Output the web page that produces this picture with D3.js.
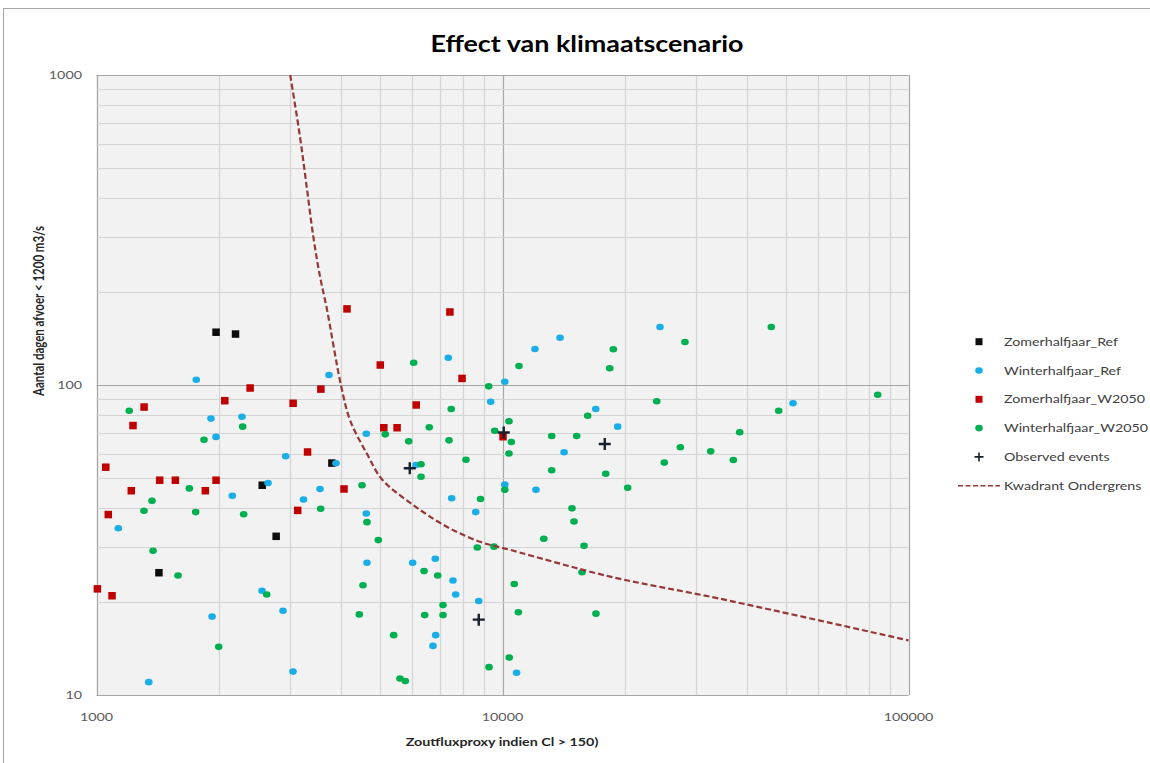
<!DOCTYPE html>
<html>
<head>
<meta charset="utf-8">
<script src="https://cdn.jsdelivr.net/npm/d3@7"></script>
<style>
  body { margin: 0; background: #fff; }
  svg { display: block; font-family: Lato, 'Noto Sans', sans-serif; }
</style>
</head>
<body>
<svg width="1150" height="763"></svg>
<script>
// values: [zoutfluxproxy, aantal dagen]
const zomerRef = [
  [1970, 148], [2200, 146], [2560, 47.5], [2770, 32.5], [1425, 24.8], [3800, 56]
];
const winterRef = [
  [1761, 104], [1914, 77.9], [2282, 79], [1970, 68], [2924, 58.9], [2646, 48.3],
  [2160, 43.9], [3235, 42.7], [1132, 34.5], [2557, 21.7], [2880, 18.7], [1926, 17.9],
  [3048, 11.9], [1345, 11], [3738, 107.7], [7353, 122.5], [10130, 102.5], [9353, 88.3],
  [4618, 69.6], [3890, 55.9], [6123, 55.2], [3552, 46.2], [10130, 47.7], [7496, 43.1],
  [4618, 38.5], [8590, 38.9], [4637, 26.7], [6009, 26.7], [6831, 27.5], [7551, 23.4],
  [7668, 21.1], [8738, 20.1], [6846, 15.6], [6742, 14.4], [10830, 11.8], [24430, 153.9],
  [13860, 142.1], [12020, 130.6], [16970, 83.7], [19220, 73.4], [14180, 60.7],
  [12090, 45.9], [51950, 87.3]
];
const zomerW2050 = [
  [2390, 97.8], [2070, 89], [3050, 87.3], [1310, 84.9], [1230, 74], [3310, 60.8],
  [1054, 54.3], [1431, 49.3], [1564, 49.3], [1970, 49.3], [1218, 45.6], [1854, 45.6],
  [1069, 38.2], [3130, 39.4], [1005, 22], [1092, 20.9], [4140, 176], [7420, 172],
  [5000, 116], [7950, 105], [3570, 97], [6130, 86.2], [5100, 72.8], [5500, 72.8],
  [10030, 68.1], [4070, 46.2]
];
const winterW2050 = [
  [1204, 82.6], [2291, 73.4], [1840, 66.6], [1693, 46.4], [1370, 42.3], [1309, 39.3],
  [1755, 38.9], [2304, 38.3], [1378, 29.2], [1588, 24.3], [2626, 21.1], [2000, 14.3],
  [6043, 118], [10980, 115.2], [9248, 99], [7477, 83.7], [10375, 76.4], [6602, 73],
  [9568, 71.2], [10510, 65.5], [5143, 69.3], [5875, 65.8], [7383, 66.3], [10375, 60.1],
  [8130, 57.4], [6300, 55.5], [6300, 50.6], [4508, 47.5], [10130, 45.9], [8828, 42.9],
  [3566, 39.9], [4637, 36.1], [4944, 31.6], [8668, 29.9], [9528, 30.1], [6408, 25.1],
  [6925, 24.3], [4533, 22.6], [10690, 22.8], [7136, 19.5], [6433, 18.1], [7136, 18.1],
  [4439, 18.2], [10940, 18.5], [5395, 15.6], [10390, 13.2], [9263, 12.3], [5591, 11.3],
  [5762, 11.1], [28150, 137.6], [18750, 130.4], [18370, 113.2], [23980, 88.6],
  [16210, 79.6], [13220, 68.5], [15230, 68.5], [27420, 63], [32570, 61.1], [25030, 56.2],
  [13220, 53.1], [17960, 51.7], [20340, 46.6], [14830, 40], [15000, 36.3], [12640, 31.9],
  [15880, 30.3], [15700, 24.9], [16990, 18.3], [45920, 153.9], [83980, 93], [47890, 82.6],
  [38390, 70.4], [37030, 57.3]
];
const observed = [
  [5910, 53.9], [10070, 70.3], [17860, 64.5], [8740, 17.5]
];
const ondergrens = [
  [3000, 1000], [3171, 632], [3294, 436], [3420, 301], [3552, 224], [3690, 177],
  [4000, 100], [4211, 77.1], [4629, 60.2], [5063, 49.4], [6029, 41], [7289, 34.9],
  [8803, 31.2], [10430, 29.4], [18400, 24.1], [34000, 20.5], [100000, 15]
];
const xTickLabels = [1000, 10000, 100000];
const yTickLabels = [10, 100, 1000];
const seriesNames = ['Zomerhalfjaar_Ref', 'Winterhalfjaar_Ref', 'Zomerhalfjaar_W2050',
  'Winterhalfjaar_W2050', 'Observed events', 'Kwadrant Ondergrens'];

const colors = ['#0d0d0d', '#1aaee8', '#c00000', '#00b050', '#17202a', '#953735'];
const shapes = ['square', 'circle', 'square', 'circle', 'plus', 'line'];
const seriesData = [zomerRef, winterRef, zomerW2050, winterW2050, observed];

const sx = 1.3; // the reference is stretched horizontally

const plotL = 96.5, plotR = 908.5, plotT = 75, plotB = 695;

const x = d3.scaleLog().domain([1000, 100000]).range([plotL, plotR]);
const y = d3.scaleLog().domain([10, 1000]).range([plotB, plotT]);

const svg = d3.select('svg');

svg.append('rect')
    .attr('x', 3.5).attr('y', 8.5)
    .attr('width', 1200).attr('height', 800)
    .attr('fill', '#fff')
    .attr('stroke', '#a6a6a6');

function label(parent, px, py, str, size, weight, anchor, fill, stretch = sx) {
  return parent.append('text')
      .attr('transform', `translate(${px},${py}) scale(${stretch},1)`)
      .attr('text-anchor', anchor)
      .attr('font-size', size)
      .attr('font-weight', weight)
      .attr('fill', fill)
      .text(str);
}

// plot area
svg.append('rect')
    .attr('x', plotL).attr('y', plotT)
    .attr('width', plotR - plotL).attr('height', plotB - plotT)
    .attr('fill', '#f2f2f2');

const isMajor = v => Math.abs(Math.log10(v) - Math.round(Math.log10(v))) < 1e-9;

const grid = svg.append('g');
const xt = x.ticks().sort((a, b) => isMajor(a) - isMajor(b));
const yt = y.ticks().sort((a, b) => isMajor(a) - isMajor(b));

grid.selectAll('.gx').data(xt).join('line')
    .attr('x1', d => Math.round(x(d)) + 0.5).attr('x2', d => Math.round(x(d)) + 0.5)
    .attr('y1', plotT).attr('y2', plotB)
    .attr('stroke', d => isMajor(d) ? '#a6a6a6' : '#d4d4d4')
    .attr('stroke-width', 1.2);

grid.selectAll('.gy').data(yt).join('line')
    .attr('y1', d => Math.round(y(d)) + 0.5).attr('y2', d => Math.round(y(d)) + 0.5)
    .attr('x1', plotL).attr('x2', plotR)
    .attr('stroke', d => isMajor(d) ? '#a6a6a6' : '#d4d4d4')
    .attr('stroke-width', 1.2);

// tick labels
xTickLabels.forEach(v => label(svg, x(v), 721, v, 11, 'normal', 'middle', '#595959'));
yTickLabels.forEach(v => label(svg, 82, y(v) + 4, v, 11, 'normal', 'end', '#595959'));

// titles
label(svg, 587, 52, 'Effect van klimaatscenario', 23, 'bold', 'middle', '#000', 1.17);
label(svg, 502, 746, 'Zoutfluxproxy indien Cl > 150)', 11, 'bold', 'middle', '#262626');
svg.append('text')
    .attr('transform', `translate(44,311) rotate(-90) scale(1,${sx})`)
    .attr('text-anchor', 'middle')
    .attr('font-size', 11.5)
    .attr('font-weight', 'bold')
    .attr('fill', '#262626')
    .text('Aantal dagen afvoer < 1200 m3/s');

// curve
const line = d3.line()
    .x(d => x(d[0]))
    .y(d => y(d[1]))
    .curve(d3.curveCatmullRom.alpha(0.5));

function drawMarker(g, shape, color, px, py, small) {
  if (shape === 'square') {
    const s = small ? 7 : 7.5;
    g.append('rect')
        .attr('x', px - s / 2).attr('y', py - s / 2)
        .attr('width', s).attr('height', s)
        .attr('fill', color);
  } else if (shape === 'circle') {
    g.append('ellipse')
        .attr('cx', px).attr('cy', py)
        .attr('rx', 3.8).attr('ry', 3.3)
        .attr('fill', color);
  } else if (shape === 'plus') {
    const s = small ? 4.5 : 6;
    g.append('path')
        .attr('d', `M${px - s},${py}H${px + s}M${px},${py - s}V${py + s}`)
        .attr('stroke', color)
        .attr('stroke-width', small ? 1.6 : 2.4);
  }
}

const marks = svg.append('g');
seriesData.forEach((data, i) => {
  const g = marks.append('g');
  data.forEach(d => drawMarker(g, shapes[i], colors[i], x(d[0]), y(d[1]), false));
});

svg.append('path')
    .datum(ondergrens)
    .attr('d', line)
    .attr('fill', 'none')
    .attr('stroke', colors[5])
    .attr('stroke-width', 2.2)
    .attr('stroke-dasharray', '6,3');

// legend
const legend = svg.append('g');
seriesNames.forEach((name, i) => {
  const ly = 341.7 + i * 28.8;
  if (shapes[i] === 'line') {
    legend.append('line')
        .attr('x1', 958).attr('x2', 1000)
        .attr('y1', ly).attr('y2', ly)
        .attr('stroke', colors[i])
        .attr('stroke-width', 1.6)
        .attr('stroke-dasharray', '5,2.5');
  } else {
    drawMarker(legend, shapes[i], colors[i], 979, ly, true);
  }
  label(legend, 1004, ly + 4, name, 11.5, 'normal', 'start', '#404040', 1.24);
});
</script>
</body>
</html>
